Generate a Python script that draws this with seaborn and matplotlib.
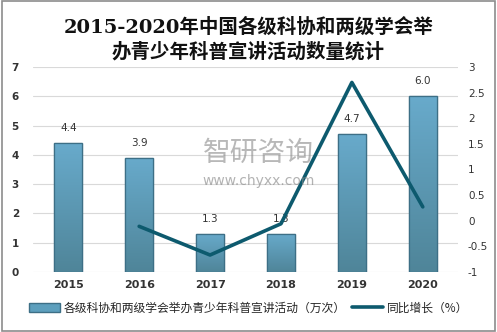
import numpy as np
import pandas as pd
import matplotlib
matplotlib.use("Agg")
import matplotlib.pyplot as plt
from matplotlib.patches import Patch, Rectangle
from matplotlib.lines import Line2D
import seaborn as sns

years = ["2015", "2016", "2017", "2018", "2019", "2020"]
activities = [4.4, 3.9, 1.3, 1.3, 4.7, 6.0]
growth = [np.nan, -0.11, -0.67, -0.06, 2.7, 0.27]
bar_label = "各级科协和两级学会举办青少年科普宣讲活动（万次）"
line_label = "同比增长（%）"
title = "2015-2020年中国各级科协和两级学会举\n办青少年科普宣讲活动数量统计"

sns.set_theme(style="white")
plt.rcParams['font.family'] = ['DejaVu Sans', 'Noto Sans CJK SC']
plt.rcParams['axes.unicode_minus'] = False

df = pd.DataFrame({"year": years, "val": activities, "g": growth})
df["pos"] = np.arange(len(years))

fig = plt.figure(figsize=(4.97, 3.32), dpi=100)
fig.patches.append(Rectangle((0.004, 0.004), 0.992, 0.992, transform=fig.transFigure,
                             fill=False, edgecolor="#8c8c8c", linewidth=1.2))
ax = fig.add_axes([0.066, 0.181, 0.856, 0.617])

sns.barplot(data=df, x="year", y="val", ax=ax, color="#5d9fbd", width=0.4,
            edgecolor="#3d6f86", linewidth=0.9, saturation=1)

# gradient fill on bars
cmap = matplotlib.colors.LinearSegmentedColormap.from_list("g", ["#4f8599", "#68aacb"])
for p in list(ax.patches):
    x0, y0 = p.get_x(), p.get_y()
    w, h = p.get_width(), p.get_height()
    grad = np.linspace(0, 1, 100).reshape(-1, 1)
    im = ax.imshow(grad, extent=(x0, x0 + w, y0, y0 + h), origin="lower",
                   cmap=cmap, aspect="auto", zorder=p.get_zorder() + 0.1)
    im.set_clip_path(p)
    edge = Rectangle((x0, y0), w, h, fill=False, edgecolor="#3d6f86", linewidth=0.9,
                     zorder=p.get_zorder() + 0.2)
    ax.add_patch(edge)

for i, v in enumerate(activities):
    ax.text(i, v + 0.35, f"{v:.1f}", ha="center", va="bottom", fontsize=7.5, color="#333333")

ax.set_xlim(-0.5, 5.5)
ax.set_ylim(0, 7)
ax.set_yticks(range(0, 8))
ax.yaxis.grid(True, color="#d9d9d9", linewidth=0.8)
ax.set_axisbelow(True)
ax.set_xlabel("")
ax.set_ylabel("")
for s in ax.spines.values():
    s.set_visible(False)
ax.tick_params(axis="x", length=0, labelsize=8, pad=6, colors="#333333")
ax.tick_params(axis="y", length=0, labelsize=7.5, pad=10, colors="#333333")
for t in ax.get_xticklabels():
    t.set_fontweight("bold")
for t in ax.get_yticklabels():
    t.set_fontweight("bold")
ax.set_xlim(-0.5, 5.5)

ax2 = ax.twinx()
sns.lineplot(data=df.dropna(), x="pos", y="g", ax=ax2, color="#0d5a6e", linewidth=2.6)
ax2.set_ylim(-1, 3)
ax2.set_yticks([-1, -0.5, 0, 0.5, 1, 1.5, 2, 2.5, 3])
ax2.set_yticklabels(["-1", "-0.5", "0", "0.5", "1", "1.5", "2", "2.5", "3"])
ax2.set_xlim(-0.5, 5.5)
ax2.set_xlabel("")
ax2.set_ylabel("")
for s in ax2.spines.values():
    s.set_visible(False)
ax2.tick_params(axis="y", length=0, labelsize=7.5, pad=7, colors="#333333")

# watermark
fig.text(0.52, 0.54, "智研咨询", ha="center", va="center", fontsize=20,
         color="#8a8a8a", alpha=0.6, family=["Noto Sans CJK SC"])
fig.text(0.52, 0.455, "www.chyxx.com", ha="center", va="center", fontsize=10,
         color="#8a8a8a", alpha=0.65)

fig.text(0.5, 0.88, title, ha="center", va="center", fontsize=14, fontweight="bold",
         linespacing=1.3, family=["DejaVu Serif", "Noto Sans CJK SC"], color="#111111")

handles = [Patch(facecolor="#5d9fbd", edgecolor="#3d6f86", label=bar_label),
           Line2D([0], [0], color="#0d5a6e", linewidth=2.6, label=line_label)]
fig.legend(handles=handles, loc="center", bbox_to_anchor=(0.5, 0.072), ncol=2, frameon=False,
           handlelength=2.6, handletextpad=0.3, columnspacing=0.6,
           prop={"family": ["Noto Sans CJK SC"], "size": 8.5})

fig.savefig("out.png", dpi=100)
